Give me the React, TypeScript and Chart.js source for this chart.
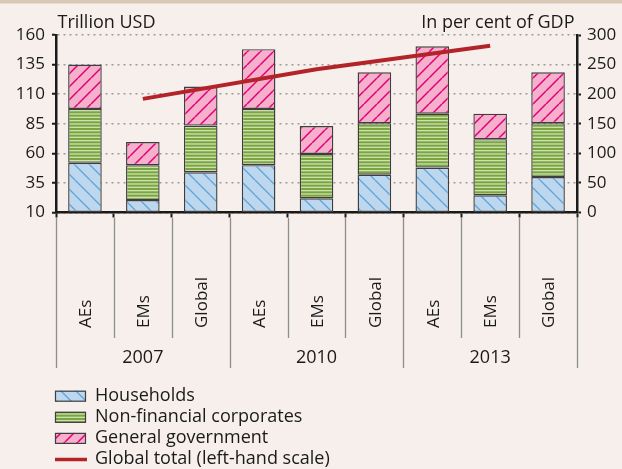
import React, { useEffect, useRef } from 'react';
import { Chart, registerables } from 'chart.js';

Chart.register(...registerables);

// ---------- data ----------
const categories = ['AEs', 'EMs', 'Global', 'AEs', 'EMs', 'Global', 'AEs', 'EMs', 'Global'];
const years = ['2007', '2010', '2013'];
const households = [84, 21, 68, 80, 24, 64, 76, 29, 60];
const corporates = [91, 59, 79, 95, 75, 87, 91, 95, 91];
const government = [75, 39, 66, 101, 47, 86, 114, 43, 86];
const globalTotal = [null, 106, null, null, 131, null, null, 151, null];
const seriesLabels = ['Households', 'Non-financial corporates', 'General government', 'Global total (left-hand scale)'];
const leftAxisTitle = 'Trillion USD';
const rightAxisTitle = 'In per cent of GDP';
const leftTicks = [10, 160, 25];
const rightTicks = [0, 300, 50];

// ---------- styles ----------
const FONT = "'Open Sans', sans-serif";
const BG = '#f6efeb';
const BAND = '#d9c8b6';
const TEXT = '#1a1a1a';
const AXIS = '#1a1a1a';
const GRID = '#9c9c9c';
const BAR_BORDER = '#3e3e3e';
const LINE_COLOR = '#b3242a';

function makeHatch(bg: string, fg: string, size: number, lw: number, dir: 'down' | 'up') {
  const c = document.createElement('canvas');
  c.width = size;
  c.height = size;
  const g = c.getContext('2d')!;
  g.fillStyle = bg;
  g.fillRect(0, 0, size, size);
  g.strokeStyle = fg;
  g.lineWidth = lw;
  g.beginPath();
  for (let k = -1; k <= 1; k++) {
    if (dir === 'down') {
      g.moveTo(k * size, 0);
      g.lineTo(k * size + size, size);
    } else {
      g.moveTo(k * size, size);
      g.lineTo(k * size + size, 0);
    }
  }
  g.stroke();
  return g.createPattern(c, 'repeat')!;
}

function makeStripes(bg: string, fg: string) {
  const c = document.createElement('canvas');
  c.width = 8;
  c.height = 10;
  const g = c.getContext('2d')!;
  g.fillStyle = bg;
  g.fillRect(0, 0, 8, 10);
  g.fillStyle = fg;
  g.fillRect(0, 0, 8, 1.3);
  g.fillRect(0, 3.33, 8, 1.3);
  g.fillRect(0, 6.67, 8, 1.3);
  return g.createPattern(c, 'repeat')!;
}

const decorPlugin = {
  id: 'decor',
  beforeDraw(chart: any) {
    const { ctx, width, height } = chart;
    ctx.save();
    ctx.fillStyle = BG;
    ctx.fillRect(0, 0, width, height);
    ctx.fillStyle = BAND;
    ctx.fillRect(0, 0, width, 3.5);
    ctx.restore();
  },
  afterDraw(chart: any) {
    const { ctx, chartArea } = chart;
    const xs = chart.scales.x;
    const n = categories.length;
    const cw = xs.getPixelForValue(1) - xs.getPixelForValue(0);
    const bound = (i: number) => xs.getPixelForValue(0) - cw / 2 + i * cw;
    const axisY = chartArea.bottom;

    ctx.save();
    // titles
    ctx.fillStyle = TEXT;
    ctx.font = `18px ${FONT}`;
    ctx.textBaseline = 'alphabetic';
    ctx.textAlign = 'left';
    ctx.fillText(leftAxisTitle, chartArea.left + 1.5, 27.5);
    ctx.textAlign = 'right';
    ctx.fillText(rightAxisTitle, chartArea.right - 2.5, 27.5);

    // separators below the axis
    ctx.strokeStyle = '#8e8e8e';
    ctx.lineWidth = 1.3;
    for (let i = 0; i <= n; i++) {
      const bx = Math.round(bound(i)) + 0.5;
      const isGroup = i % 3 === 0;
      ctx.beginPath();
      ctx.moveTo(bx, axisY + 5.5);
      ctx.lineTo(bx, isGroup ? axisY + 155.5 : axisY + 125.5);
      ctx.stroke();
    }

    // rotated category labels
    ctx.fillStyle = TEXT;
    ctx.font = `17px ${FONT}`;
    ctx.textAlign = 'left';
    ctx.textBaseline = 'alphabetic';
    for (let i = 0; i < n; i++) {
      const cx = xs.getPixelForValue(i);
      ctx.save();
      ctx.translate(cx + 6.3, axisY + 115.5);
      ctx.rotate(-Math.PI / 2);
      ctx.fillText(categories[i], 0, 0);
      ctx.restore();
    }

    // year labels
    ctx.font = `18px ${FONT}`;
    ctx.textAlign = 'center';
    years.forEach((yr, g) => {
      const gx = (bound(g * 3) + bound(g * 3 + 3)) / 2;
      ctx.fillText(yr, gx, axisY + 150.5);
    });

    // legend
    const ds = chart.data.datasets;
    const order = [1, 2, 3, 0];
    const lx = chartArea.left - 1;
    const boxW = 31;
    const boxH = 11;
    const top = 396.2;
    const gap = 21.1;
    ctx.font = `18px ${FONT}`;
    ctx.textAlign = 'left';
    order.forEach((di, r) => {
      const d = ds[di];
      const cy = top + r * gap;
      if (d.type === 'line') {
        ctx.strokeStyle = d.borderColor;
        ctx.lineWidth = 3.5;
        ctx.beginPath();
        ctx.moveTo(lx, cy);
        ctx.lineTo(lx + boxW + 1, cy);
        ctx.stroke();
      } else {
        ctx.fillStyle = d.backgroundColor;
        ctx.fillRect(lx, cy - boxH / 2, boxW, boxH);
        ctx.strokeStyle = BAR_BORDER;
        ctx.lineWidth = 1.2;
        ctx.strokeRect(lx + 0.5, cy - boxH / 2 + 0.5, boxW - 1, boxH - 1);
      }
      ctx.fillStyle = TEXT;
      ctx.fillText(d.label, lx + 40, cy + 4.5);
    });
    ctx.restore();
  },
};

export default function App() {
  const ref = useRef<HTMLCanvasElement>(null);

  useEffect(() => {
    const canvas = ref.current!;
    const hhFill = makeHatch('#bdd7ee', '#5fa3d8', 15, 1.3, 'down');
    const corpFill = makeStripes('#79a440', '#cde2ae');
    const govFill = makeHatch('#f7b0cb', '#e2007a', 13, 1.5, 'up');

    const tickFont = { family: FONT, size: 17 };

    const chart = new Chart(canvas, {
      type: 'bar',
      data: {
        labels: categories,
        datasets: [
          {
            type: 'line',
            label: seriesLabels[3],
            data: globalTotal,
            yAxisID: 'y',
            borderColor: LINE_COLOR,
            backgroundColor: LINE_COLOR,
            borderWidth: 4,
            pointRadius: 0,
            spanGaps: true,
            tension: 0,
          },
          {
            type: 'bar',
            label: seriesLabels[0],
            data: households,
            yAxisID: 'y2',
            backgroundColor: hhFill,
            borderColor: BAR_BORDER,
            borderWidth: 1.4,
            borderSkipped: false,
            barPercentage: 0.58,
            categoryPercentage: 1,
          },
          {
            type: 'bar',
            label: seriesLabels[1],
            data: corporates,
            yAxisID: 'y2',
            backgroundColor: corpFill,
            borderColor: BAR_BORDER,
            borderWidth: 1.4,
            borderSkipped: false,
            barPercentage: 0.58,
            categoryPercentage: 1,
          },
          {
            type: 'bar',
            label: seriesLabels[2],
            data: government,
            yAxisID: 'y2',
            backgroundColor: govFill,
            borderColor: BAR_BORDER,
            borderWidth: 1.4,
            borderSkipped: false,
            barPercentage: 0.58,
            categoryPercentage: 1,
          },
        ] as any,
      },
      options: {
        responsive: false,
        animation: false,
        layout: { padding: { top: 35, left: 0, right: 0, bottom: 0 } },
        plugins: {
          legend: { display: false },
          tooltip: { enabled: false },
        },
        scales: {
          x: {
            type: 'category',
            stacked: true,
            offset: true,
            grid: {
              offset: true,
              drawOnChartArea: false,
              drawTicks: true,
              tickLength: 5,
              tickWidth: 2,
              tickColor: AXIS,
            },
            border: { color: AXIS, width: 2.5 },
            ticks: { display: false },
            afterFit: (s: any) => {
              s.height = 256.5;
            },
          },
          y: {
            type: 'linear',
            position: 'left',
            min: leftTicks[0],
            max: leftTicks[1],
            ticks: { stepSize: leftTicks[2], color: TEXT, font: tickFont, padding: 7 },
            grid: {
              color: GRID,
              lineWidth: 1.5,
              tickColor: AXIS,
              tickLength: 4,
              tickWidth: 2,
              tickBorderDash: [],
            },
            border: { color: AXIS, width: 2.5, dash: [2, 4] },
            afterFit: (s: any) => {
              s.width = 56;
            },
          },
          y2: {
            type: 'linear',
            position: 'right',
            stacked: true,
            min: rightTicks[0],
            max: rightTicks[1],
            ticks: { stepSize: rightTicks[2], color: TEXT, font: tickFont, padding: 6 },
            grid: {
              drawOnChartArea: false,
              tickColor: AXIS,
              tickLength: 4,
              tickWidth: 2,
              tickBorderDash: [],
            },
            border: { color: AXIS, width: 2.5 },
            afterFit: (s: any) => {
              s.width = 45;
            },
          },
        },
      } as any,
      plugins: [decorPlugin],
    });

    return () => chart.destroy();
  }, []);

  return (
    <div style={{ position: 'fixed', left: 0, top: 0, width: 622, height: 469, background: BG }}>
      <canvas ref={ref} width={622} height={469} style={{ display: 'block' }} />
    </div>
  );
}
